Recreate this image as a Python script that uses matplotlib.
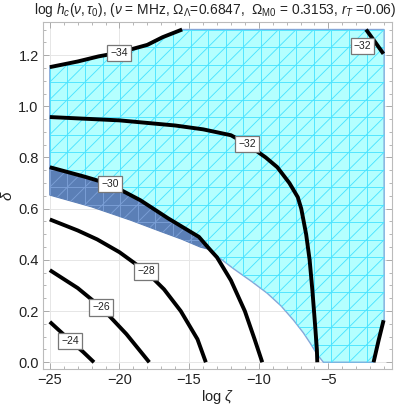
import numpy as np
import matplotlib.pyplot as plt
from matplotlib.patches import Polygon
from matplotlib.collections import LineCollection
from matplotlib.ticker import MultipleLocator

plt.rcParams['font.family'] = ['Liberation Sans', 'DejaVu Sans']
plt.rcParams['mathtext.fontset'] = 'custom'
plt.rcParams['mathtext.rm'] = 'Liberation Sans'
plt.rcParams['mathtext.it'] = 'Liberation Sans:italic'

# contour lines: (log zeta, delta)
c24_x = [-25.0, -23.5, -22.6, -21.83]
c24_y = [0.158, 0.083, 0.040, 0.0]
c26_x = [-25.0, -23.0, -21.3, -19.5, -17.86]
c26_y = [0.36, 0.29, 0.214, 0.11, 0.0]
c28_x = [-25.0, -23.0, -21.6, -20.0, -18.1, -16.8, -15.6, -14.4, -13.8]
c28_y = [0.558, 0.515, 0.48, 0.43, 0.355, 0.285, 0.20, 0.09, 0.0]
c30_x = [-25.0, -22.5, -20.7, -18.5, -16.5, -14.3, -13.5, -13.0, -12.0, -11.0, -10.3, -9.75]
c30_y = [0.762, 0.725, 0.696, 0.633, 0.562, 0.49, 0.44, 0.41, 0.32, 0.20, 0.09, 0.0]
c32_x = [-25.0, -20.0, -16.0, -14.0, -12.0, -10.85, -9.5, -8.67, -7.8, -7.2, -6.95,
         -6.6, -6.35, -6.15, -5.95, -5.83, -5.8]
c32_y = [0.958, 0.945, 0.925, 0.91, 0.887, 0.852, 0.80, 0.762, 0.70, 0.645, 0.60,
         0.50, 0.40, 0.28, 0.14, 0.05, 0.0]
c34_x = [-25.0, -23.0, -21.5, -20.0, -18.0, -16.9, -15.5]
c34_y = [1.153, 1.175, 1.195, 1.21, 1.24, 1.27, 1.30]
c32b_x = [-2.3, -1.7, -1.05]
c32b_y = [1.30, 1.255, 1.205]
edge_x = [-1.76, -1.4, -1.04]
edge_y = [0.0, 0.085, 0.164]

# lower boundary of the shaded regions
bnd_x = [-25.0, -22.0, -19.2, -17.0, -15.5, -14.2, -13.5, -13.0, -11.8, -10.5, -9.4,
         -8.4, -7.5, -6.8, -6.3, -5.8, -5.36]
bnd_y = [0.653, 0.607, 0.555, 0.51, 0.48, 0.45, 0.44, 0.415, 0.365, 0.315, 0.27,
         0.22, 0.164, 0.115, 0.074, 0.03, 0.0]

# contour labels
lab_text = ['-34', '-32', '-32', '-30', '-28', '-26', '-24']
lab_x = [-20.04, -10.83, -2.55, -20.68, -18.1, -21.3, -23.54]
lab_y = [1.207, 0.853, 1.237, 0.696, 0.355, 0.214, 0.083]

title = (r'log $h_c(\nu,\tau_0)$, ($\nu$ = MHz, $\Omega_\Lambda$=0.6847,  '
         r'$\Omega_{\rm M0}$ = 0.3153, $r_T$ =0.06)')

fig = plt.figure(figsize=(4.12, 4.09), dpi=100)
ax = fig.add_axes([0.104, 0.098, 0.847, 0.848])
ax.set_xlim(-25.5, -0.45)
ax.set_ylim(-0.026, 1.329)

# cyan region: above the -30 line and the boundary, below -34, left of the edge line
i30 = c30_x.index(-13.5)
ib = bnd_x.index(-13.5)
cyan = (list(zip(c30_x[:i30 + 1], c30_y[:i30 + 1]))
        + list(zip(bnd_x[ib + 1:], bnd_y[ib + 1:]))
        + list(zip(edge_x, edge_y))
        + [(-1.0, edge_y[-1]), (-1.0, 1.3)]
        + list(zip(c34_x[::-1], c34_y[::-1])))
blue = (list(zip(c30_x[:i30 + 1], c30_y[:i30 + 1]))
        + list(zip(bnd_x[:ib + 1][::-1], bnd_y[:ib + 1][::-1])))

p_cyan = Polygon(cyan, closed=True, facecolor='#b4ffff', edgecolor='#86a6d8', lw=1.0, zorder=1)
p_blue = Polygon(blue, closed=True, facecolor='#5b7fb6', edgecolor='#5b7fb6', lw=0.8, zorder=1)
ax.add_patch(p_cyan)
ax.add_patch(p_blue)

# triangulation mesh (20 x 20 sample points)
n = 19
dx, dy = 24.0 / n, 1.3 / n
segs = []
for i in range(n + 1):
    segs.append([(-25 + i * dx, 0), (-25 + i * dx, 1.3)])
    segs.append([(-25, i * dy), (-1, i * dy)])
for k in range(-n, n + 1):
    segs.append([(-25 + k * dx, 0), (-25 + (k + n) * dx, 1.3)])
for patch, col in [(p_cyan, '#4ce4ff'), (p_blue, '#7b9fd6')]:
    lc = LineCollection(segs, colors=col, linewidths=0.65, zorder=1.5)
    ax.add_collection(lc)
    lc.set_clip_path(patch)

lines = [(c24_x, c24_y), (c26_x, c26_y), (c28_x, c28_y), (c30_x, c30_y),
         (c32_x, c32_y), (c34_x, c34_y), (c32b_x, c32b_y), (edge_x, edge_y)]
for xs, ys in lines:
    ax.plot(xs, ys, color='black', lw=2.8, solid_capstyle='butt',
            solid_joinstyle='round', zorder=3)

for t, x, y in zip(lab_text, lab_x, lab_y):
    ax.text(x, y, t.replace('-', '\u2212'), fontsize=7.5, ha='center', va='center',
            color='#222222', zorder=4,
            bbox=dict(boxstyle='square,pad=0.3', fc='white', ec='#777777', lw=0.9))

ax.set_xticks([-25, -20, -15, -10, -5])
ax.set_yticks([0.0, 0.2, 0.4, 0.6, 0.8, 1.0, 1.2])
ax.set_yticklabels(['0.0', '0.2', '0.4', '0.6', '0.8', '1.0', '1.2'])
ax.xaxis.set_minor_locator(MultipleLocator(1))
ax.yaxis.set_minor_locator(MultipleLocator(0.05))
ax.grid(True, which='major', color='#e6e6e6', lw=0.7, zorder=0)
ax.set_axisbelow(True)
ax.tick_params(which='both', direction='in', top=True, right=True, color='#aaaaaa',
               labelsize=10.5, labelcolor='#222222', pad=3)
ax.tick_params(which='major', length=4, width=0.7)
ax.tick_params(which='minor', length=2, width=0.6)
for s in ax.spines.values():
    s.set_color('#bbbbbb')
    s.set_linewidth(0.8)

ax.set_xlabel(r'log $\zeta$', fontsize=10.5, color='#222222', labelpad=1)
ax.set_ylabel(r'$\delta$', fontsize=11, color='#222222', labelpad=2)
fig.text(0.522, 0.975, title, ha='center', va='center', fontsize=9.9, color='#222222')

fig.savefig('out.png', dpi=100)
